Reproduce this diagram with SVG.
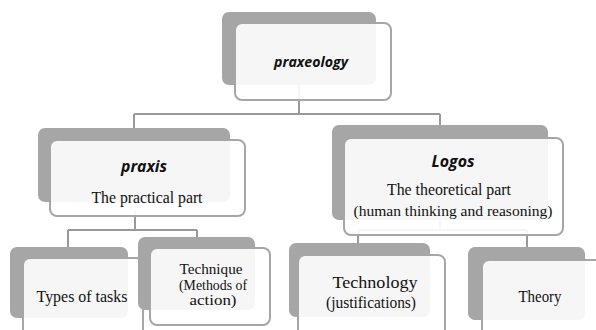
<svg xmlns="http://www.w3.org/2000/svg" width="596" height="330" viewBox="0 0 596 330">
  <style>
    .back { fill: #a6a6a6; }
    .front { fill: #ffffff; fill-opacity: 0.9; stroke: #a6a6a6; stroke-width: 2; }
    .link { fill: none; stroke: #999999; stroke-width: 2; }
    .title { font-family: "Open Sans", "Liberation Sans", sans-serif; font-weight: 700; font-style: italic; fill: #111111; text-anchor: middle; }
    .body { font-family: "Liberation Serif", "Times New Roman", serif; fill: #111111; text-anchor: middle; }
  </style>
  <rect width="596" height="330" fill="#ffffff"/>

  <!-- connectors, drawn under the nodes -->
  <g id="connectors">
    <path class="link" d="M299 85 V114 M134 114 H440 M134 114 V129 M440 114 V126"/>
    <path class="link" d="M135 210 V230 M68 230 H197 M68 230 V248 M197 230 V238"/>
    <path class="link" d="M440 221 V230 M358 230 H527 M358 230 V244 M527 230 V248"/>
  </g>

  <g id="node-praxeology">
    <rect class="back" x="222" y="12" width="154" height="73" rx="7"/>
    <rect class="front" x="235" y="23" width="156" height="77" rx="7"/>
    <text class="title" x="311" y="67" font-size="14" textLength="74" lengthAdjust="spacingAndGlyphs">praxeology</text>
  </g>

  <g id="node-praxis">
    <rect class="back" x="38" y="128" width="192" height="74" rx="7"/>
    <rect class="front" x="50" y="140" width="195" height="76" rx="7"/>
    <text class="title" x="144" y="172" font-size="16" textLength="46" lengthAdjust="spacingAndGlyphs">praxis</text>
    <text class="body" x="147" y="203" font-size="15.7" textLength="111" lengthAdjust="spacingAndGlyphs">The practical part</text>
  </g>

  <g id="node-logos">
    <rect class="back" x="332" y="125" width="216" height="95" rx="7"/>
    <rect class="front" x="344" y="138" width="219" height="97" rx="7"/>
    <text class="title" x="453" y="167" font-size="16" textLength="43" lengthAdjust="spacingAndGlyphs">Logos</text>
    <text class="body" x="449" y="195" font-size="15.7" textLength="124" lengthAdjust="spacingAndGlyphs">The theoretical part</text>
    <text class="body" x="453" y="216" font-size="15.5" textLength="199" lengthAdjust="spacingAndGlyphs">(human thinking and reasoning)</text>
  </g>

  <g id="node-types">
    <rect class="back" x="10" y="247" width="118" height="71" rx="7"/>
    <rect class="front" x="23" y="258" width="120" height="80" rx="7"/>
    <text class="body" x="82" y="302" font-size="16" textLength="91" lengthAdjust="spacingAndGlyphs">Types of tasks</text>
  </g>

  <g id="node-technique">
    <rect class="back" x="138" y="237" width="117" height="73" rx="7"/>
    <rect class="front" x="150" y="248" width="120" height="77" rx="7"/>
    <text class="body" x="211" y="274" font-size="15" textLength="63" lengthAdjust="spacingAndGlyphs">Technique</text>
    <text class="body" x="213" y="290" font-size="15" textLength="68" lengthAdjust="spacingAndGlyphs">(Methods of</text>
    <text class="body" x="213" y="305" font-size="15" textLength="47" lengthAdjust="spacingAndGlyphs">action)</text>
  </g>

  <g id="node-technology">
    <rect class="back" x="289" y="243" width="141" height="74" rx="7"/>
    <rect class="front" x="298" y="255" width="147" height="83" rx="7"/>
    <text class="body" x="375" y="288" font-size="16" textLength="85" lengthAdjust="spacingAndGlyphs">Technology</text>
    <text class="body" x="371" y="308" font-size="16" textLength="90" lengthAdjust="spacingAndGlyphs">(justifications)</text>
  </g>

  <g id="node-theory">
    <rect class="back" x="468" y="247" width="117" height="73" rx="7"/>
    <rect class="front" x="482" y="260" width="122" height="80" rx="7"/>
    <text class="body" x="540" y="302" font-size="16" textLength="43" lengthAdjust="spacingAndGlyphs">Theory</text>
  </g>
</svg>
